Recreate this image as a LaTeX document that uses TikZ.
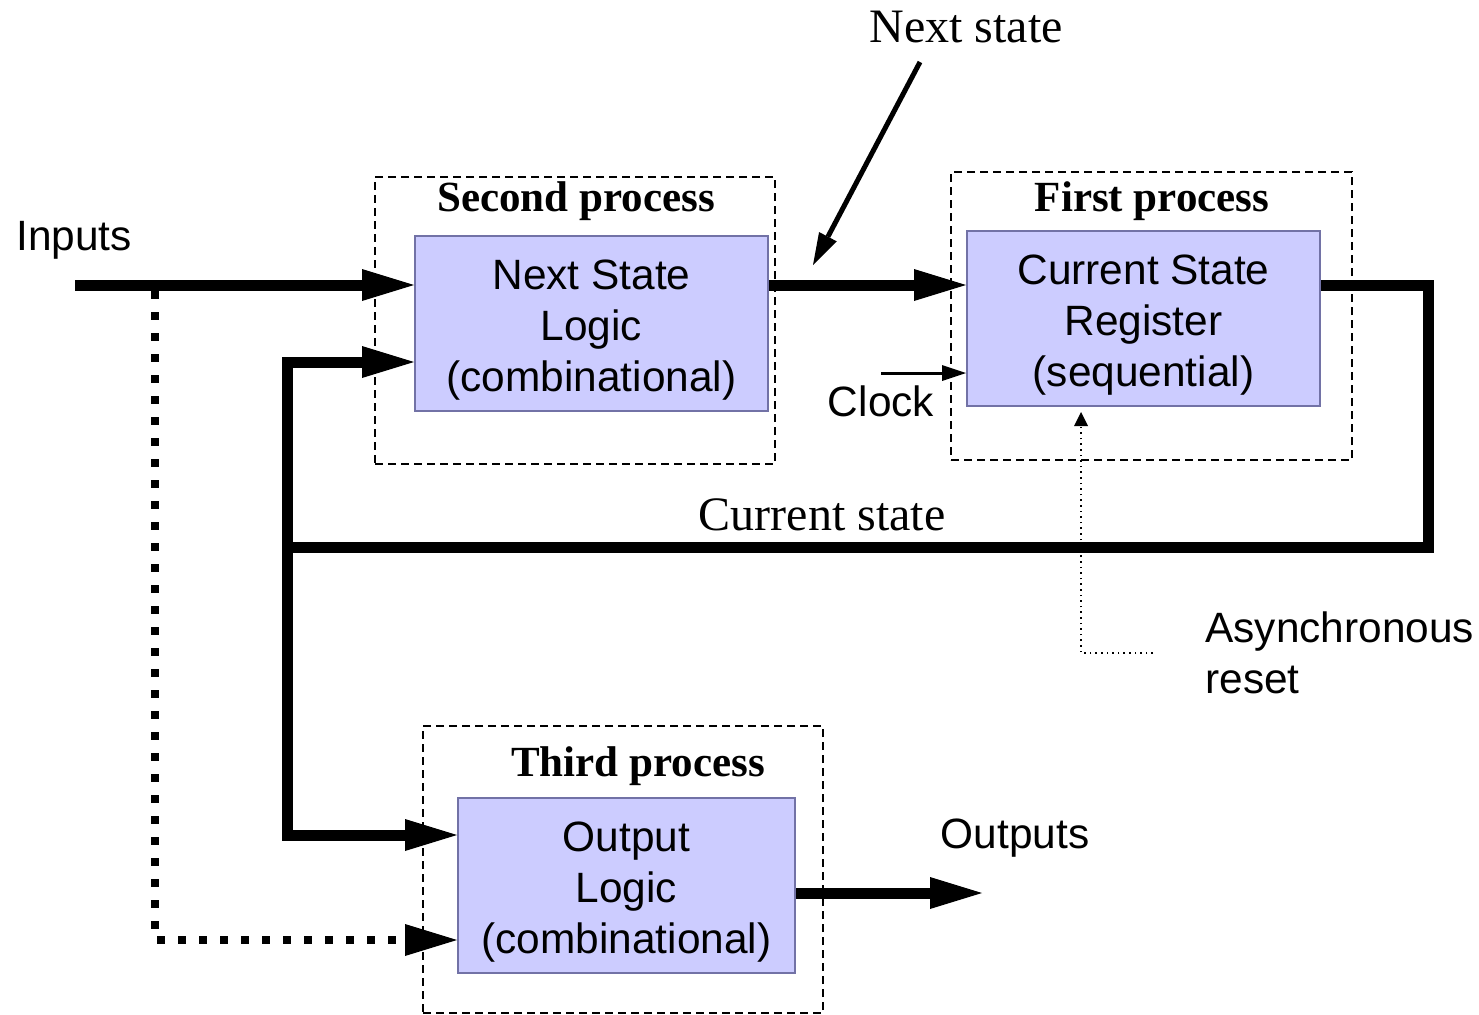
\documentclass[tikz,border=0pt]{standalone}
\usepackage{fontspec}
\setmainfont{Liberation Serif}
\setsansfont{Liberation Sans}
\usetikzlibrary{arrows.meta,calc,positioning}
\definecolor{fsmFill}{HTML}{CCCCFF}
\definecolor{fsmEdge}{HTML}{7272A6}
\newcommand{\fsmStrut}{\rule{0pt}{21pt}}
\tikzset{
 fsm/.style={line join=miter,text=black},
 block/.style={draw=fsmEdge,fill=fsmFill,line width=1pt,inner sep=0pt,
   minimum width=176.5pt,minimum height=87.5pt,align=center,
   font=\fontsize{21.2}{25.5}\selectfont\sffamily},
 procbox/.style={draw,dash pattern=on 4pt off 2.5pt,line width=.75pt,inner sep=0pt,
   minimum width=200pt,minimum height=143.5pt},
 proctitle/.style={font=\fontsize{21.5}{24}\selectfont\bfseries},
 tag/.style={font=\fontsize{24}{28}\selectfont},
 sig/.style={font=\fontsize{21.2}{25.5}\selectfont\sffamily,align=left},
 bigtip/.style={-{Triangle[length=26pt,width=16pt,line width=0pt]}},
 wire/.style={line width=5.5pt},
 bus/.style={wire,bigtip},
 pointer/.style={line width=2.5pt,-{Triangle[length=16pt,width=10pt,line width=0pt]}},
 clockwire/.style={line width=1.5pt,-{Triangle[length=12pt,width=8pt,line width=0pt]}},
 resetwire/.style={line width=.8pt,dotted,shorten >=2.5pt,
   -{Triangle[length=7pt,width=7pt,line width=0pt]}},
 selwire/.style={line width=4.2pt,dash pattern=on 4.2pt off 6.3pt,bigtip}
}

\begin{document}
\begin{tikzpicture}[fsm,x=0.5pt,y=-0.5pt]
 \useasboundingbox (0,0) rectangle (1479,1014);
 % process frames
 \node[procbox] (secproc) at (575,320.5) {};
 \node[procbox,minimum width=200.5pt,minimum height=144pt] (firstproc) at (1151.5,316) {};
 \node[procbox] (thirdproc) at (623,869.5) {};
 \node[proctitle] (sectitle) at (576,201) {Second process};
 \node[proctitle] (firsttitle) at (1152,201) {First process};
 \node[proctitle] (thirdtitle) at (638,766) {Third process};
 % blocks
 \node[block] (nsl) at (591.5,323.5) {\fsmStrut Next State\\Logic\\(combinational)};
 \node[block] (csr) at (1143.5,318.5) {\fsmStrut Current State\\Register\\(sequential)};
 \node[block,minimum width=168.5pt] (ol) at (626.5,885.5) {\fsmStrut Output\\Logic\\(combinational)};
 % labels
 \node[sig] (inlbl) at (74,240) {Inputs};
 \node[sig] (outlbl) at (1015,838) {Outputs};
 \node[sig] (clk) at (881,401) {Clock};
 \node[sig,anchor=west,inner sep=0pt] (async) at (1205,653) {Asynchronous\\reset};
 \node[tag] (nxt) at (966,27) {Next state};
 \node[tag] (cur) at (822,515) {Current state};
 % wiring
 \coordinate (inp) at (75,285);
 \coordinate (tap) at (155,285);
 \coordinate (fbR) at (1428,285);
 \coordinate (fbB) at (1428,547);
 \coordinate (fbL) at (287,547);
 \coordinate (nsarr) at (813,265);
 \coordinate (outp) at (982,893);
 \draw[bus] (inp) -- (nsl.west |- inp);
 \draw[selwire] ([yshift=-3pt]tap) |- (ol.west |- 0,940);
 \draw[bus] (nsl.east |- inp) -- (csr.west |- inp);
 \draw[wire] (csr.east |- fbR) -- (fbR) -- (fbB) -- (fbL);
 \draw[bus] (fbL) |- (nsl.west |- 0,362);
 \draw[bus] (fbL) |- (ol.west |- 0,835);
 \draw[bus] (ol.east |- outp) -- (outp);
 \draw[pointer] ([xshift=-23pt,yshift=-6pt]nxt.south) -- (nsarr);
 \draw[clockwire] (clk.north |- 0,373) -- (csr.west |- 0,373);
 \draw[resetwire] ([xshift=-26pt]async.west) -| ([xshift=-31.25pt]csr.south);
\end{tikzpicture}
\end{document}
